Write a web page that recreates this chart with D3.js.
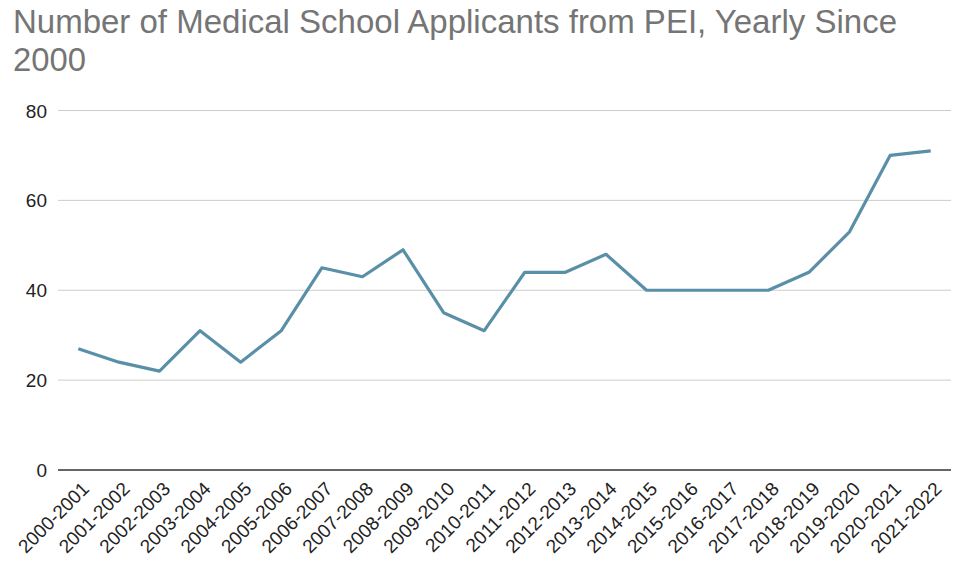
<!DOCTYPE html>
<html>
<head>
<meta charset="utf-8">
<script src="https://cdnjs.cloudflare.com/ajax/libs/d3/7.8.5/d3.min.js"></script>
<style>
  body { margin: 0; background: #fff; }
  text { font-family: Arial, "Liberation Sans", sans-serif; }
</style>
</head>
<body>
<script>
var width = 958;
var height = 561;

var seasons = ["2000-2001", "2001-2002", "2002-2003", "2003-2004", "2004-2005",
               "2005-2006", "2006-2007", "2007-2008", "2008-2009", "2009-2010",
               "2010-2011", "2011-2012", "2012-2013", "2013-2014", "2014-2015",
               "2015-2016", "2016-2017", "2017-2018", "2018-2019", "2019-2020",
               "2020-2021", "2021-2022"];
var applicants = [27, 24, 22, 31, 24, 31, 45, 43, 49, 35, 31, 44, 44, 48, 40, 40, 40, 40, 44, 53, 70, 71];
var yTicks = [0, 20, 40, 60, 80];

var titleLines = ["Number of Medical School Applicants from PEI, Yearly Since", "2000"];

var svg = d3.select("body")
            .append("svg")
            .attr("width", width)
            .attr("height", height);

// title
svg.selectAll("text.title")
   .data(titleLines)
   .enter()
   .append("text")
   .attr("class", "title")
   .attr("x", 13)
   .attr("y", function(d, i) { return 33 + i * 38; })
   .attr("fill", "#757575")
   .attr("font-size", "33px")
   .attr("textLength", function(d, i) { return i === 0 ? 884 : 73; })
   .attr("lengthAdjust", "spacingAndGlyphs")
   .text(function(d) { return d; });

var x = d3.scalePoint()
          .domain(seasons)
          .range([58, 951])
          .padding(0.5);

var y = d3.scaleLinear()
          .domain([0, 80])
          .range([470, 110.5]);

// gridlines
svg.selectAll("line.grid")
   .data(yTicks.filter(function(d) { return d > 0; }))
   .enter()
   .append("line")
   .attr("class", "grid")
   .attr("x1", 58)
   .attr("x2", 951)
   .attr("y1", function(d) { return y(d); })
   .attr("y2", function(d) { return y(d); })
   .attr("stroke", "#cccccc")
   .attr("stroke-width", 1);

// y labels
svg.selectAll("text.ytick")
   .data(yTicks)
   .enter()
   .append("text")
   .attr("class", "ytick")
   .attr("x", 47)
   .attr("y", function(d) { return y(d) + 7; })
   .attr("text-anchor", "end")
   .attr("font-size", "19px")
   .attr("fill", "#222")
   .text(function(d) { return d; });

// baseline
svg.append("line")
   .attr("x1", 58)
   .attr("x2", 951)
   .attr("y1", y(0))
   .attr("y2", y(0))
   .attr("stroke", "#333")
   .attr("stroke-width", 1.5);

// x labels
svg.selectAll("text.xtick")
   .data(seasons)
   .enter()
   .append("text")
   .attr("class", "xtick")
   .attr("text-anchor", "end")
   .attr("font-size", "19px")
   .attr("fill", "#222")
   .attr("transform", function(d) {
      return "translate(" + (x(d) + 12) + ",490) rotate(-45)";
   })
   .text(function(d) { return d; });

// line
var line = d3.line()
             .x(function(d, i) { return x(seasons[i]); })
             .y(function(d) { return y(d); });

svg.append("path")
   .datum(applicants)
   .attr("d", line)
   .attr("fill", "none")
   .attr("stroke", "#5a8fa8")
   .attr("stroke-width", 3.2)
   .attr("stroke-linejoin", "round");
</script>
</body>
</html>
